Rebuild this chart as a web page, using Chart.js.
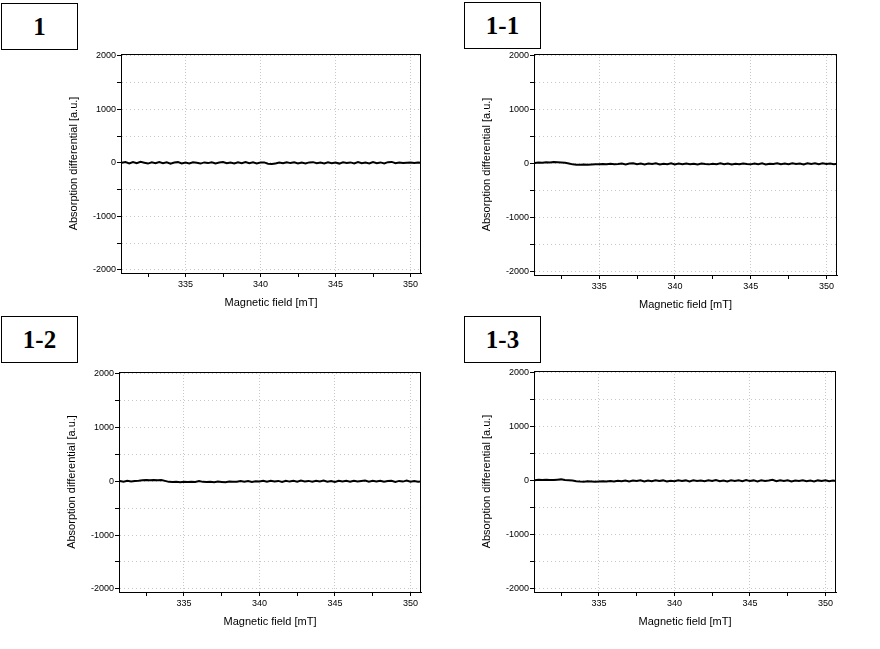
<!DOCTYPE html>
<html>
<head>
<meta charset="utf-8">
<script src="https://cdn.jsdelivr.net/npm/chart.js@4/dist/chart.umd.min.js"></script>
<style>
    html, body { margin: 0; padding: 0; background: #fff; }
    body { width: 880px; height: 649px; position: relative; overflow: hidden; }
    .tag {
        position: absolute;
        box-sizing: border-box;
        border: 1px solid #000;
        display: flex;
        align-items: center;
        justify-content: center;
        font: bold 25px "Liberation Serif", "Times New Roman", serif;
        color: #000;
    }
    canvas { position: absolute; }
</style>
</head>
<body>

<div class="tag" style="left:1px;top:3px;width:77px;height:47px;">1</div>
<div class="tag" style="left:464px;top:2px;width:77px;height:47px;">1-1</div>
<div class="tag" style="left:1px;top:316px;width:77px;height:47px;">1-2</div>
<div class="tag" style="left:464px;top:316px;width:77px;height:47px;">1-3</div>

<canvas id="c1"></canvas>
<canvas id="c2"></canvas>
<canvas id="c3"></canvas>
<canvas id="c4"></canvas>

<script>
// ============================================================
//  Data
// ============================================================

const panelNames = ["1", "1-1", "1-2", "1-3"];

// magnetic field [mT]
const field = [
    330.75, 331, 331.25, 331.5, 331.75, 332, 332.25, 332.5, 332.75, 333,
    333.25, 333.5, 333.75, 334, 334.25, 334.5, 334.75, 335, 335.25, 335.5,
    335.75, 336, 336.25, 336.5, 336.75, 337, 337.25, 337.5, 337.75, 338,
    338.25, 338.5, 338.75, 339, 339.25, 339.5, 339.75, 340, 340.25, 340.5,
    340.75, 341, 341.25, 341.5, 341.75, 342, 342.25, 342.5, 342.75, 343,
    343.25, 343.5, 343.75, 344, 344.25, 344.5, 344.75, 345, 345.25, 345.5,
    345.75, 346, 346.25, 346.5, 346.75, 347, 347.25, 347.5, 347.75, 348,
    348.25, 348.5, 348.75, 349, 349.25, 349.5, 349.75, 350, 350.25, 350.5,
    350.75,
];

// absorption differential [a.u.]
const signal1 = [
    0, 14, -10, 16, -8, 18, 3, -14, 10, -9,
    15, -6, 9, -15, 6, 13, -10, 5, -12, 11,
    2, -14, 8, -5, 12, -11, 6, 15, -9, 4,
    -13, 9, -6, 14, -8, 10, -12, 5, 8, -16,
    -22, -14, 6, -9, 12, -5, 9, -13, 5, -11,
    8, 13, -7, 4, -12, 9, -6, 7, -14, 10,
    -3, 8, -10, 13, -7, 4, -11, 15, -6, 8,
    -12, 13, 17, -8, 5, -4, 3, 6, -5, 4,
    0,
];
const signal1_1 = [
    15, 25, 22, 30, 26, 32, 28, 24, 18, 5,
    -10, -15, -18, -14, -16, -12, -8, -10, -4, -9,
    2, -9, -3, 7, -10, 5, 10, -8, 4, -11,
    6, -5, 9, -10, 2, -7, 8, -12, 4, -8,
    5, -9, 2, -11, 6, -4, -10, 1, -7, 8,
    -9, 4, -12, 2, -8, 6, -5, -10, 4, -7,
    8, -11, 2, -5, 10, -8, 4, -9, 11, -4,
    6, -10, 12, -5, 9, -8, 10, -3, 6, -9,
    2,
];
const signal1_2 = [
    5, -8, 10, -5, 8, 12, 18, 24, 20, 26,
    22, 25, 8, -10, -14, -10, -16, -9, -14, -6,
    -12, 4, -10, -14, -7, -16, -5, -11, -18, -4,
    -10, -8, 4, -9, 6, -11, 2, -5, 10, -8,
    11, -4, 8, -10, 12, -5, 9, -7, 14, -4,
    8, -9, 11, -3, 13, -7, 5, -10, 12, -4,
    9, -8, 11, -5, 6, 14, -7, 10, -4, 12,
    -8, 5, 11, -10, 8, -5, 13, -7, 4, -9,
    -4,
];
const signal1_3 = [
    12, 18, 14, 20, 15, 17, 22, 28, 16, 10,
    4, -6, -12, -15, -10, -14, -18, -11, -8, -13,
    -5, -11, 2, -8, 6, -10, 4, -5, 9, -11,
    5, -8, 10, -4, 8, -12, 2, -7, 11, -5,
    8, -10, 12, -4, 6, -9, 10, -3, 13, -8,
    5, -11, 9, -4, 11, -7, 14, -5, 8, -10,
    12, -4, 6, 20, -8, 10, -5, 9, -11, 6,
    -4, 10, -8, 5, -12, 8, -3, 11, -7, 4,
    -6,
];

const xTicks = [332.5, 335, 337.5, 340, 342.5, 345, 347.5, 350];
const yTicks = [-2000, -1500, -1000, -500, 0, 500, 1000, 1500, 2000];

// ============================================================
//  Layout of the four plot areas (page pixels)
// ============================================================

const AREAS = [
    { id: "c1", L: 121, T: 54,  R: 421, B: 273 },
    { id: "c2", L: 534, T: 54,  R: 837, B: 275 },
    { id: "c3", L: 119, T: 372, R: 421, B: 592 },
    { id: "c4", L: 534, T: 371, R: 836, B: 592 },
];
const SERIES = [signal1, signal1_1, signal1_2, signal1_3];

const Y_AXIS_W = 54;
const X_AXIS_H = 37;
const PAD = 8;

const FONT = "'Liberation Sans', Arial, sans-serif";
const GRID = "#c8c8c8";

// full box round the plot area
const framePlugin = {
    id: "frame",
    afterDraw(chart) {
        const { ctx, chartArea: a } = chart;
        ctx.save();
        ctx.strokeStyle = "#000";
        ctx.lineWidth = 1;
        ctx.strokeRect(Math.round(a.left) + 0.5, Math.round(a.top) + 0.5,
                       Math.round(a.right - a.left) - 1, Math.round(a.bottom - a.top));
        ctx.restore();
    },
};

function drawPanel(area, values) {
    const canvas = document.getElementById(area.id);
    const w = area.R - area.L + Y_AXIS_W + PAD;
    const h = area.B - area.T + PAD + X_AXIS_H;
    canvas.width = w;
    canvas.height = h;
    canvas.style.left = (area.L - Y_AXIS_W) + "px";
    canvas.style.top = (area.T - PAD) + "px";

    new Chart(canvas, {
        type: "line",
        data: {
            datasets: [{
                data: field.map((x, i) => ({ x, y: values[i] })),
                borderColor: "#000",
                borderWidth: 2,
                pointRadius: 0,
                tension: 0,
            }],
        },
        options: {
            responsive: false,
            animation: false,
            devicePixelRatio: 1,
            layout: { autoPadding: false, padding: { top: PAD, right: PAD, left: 0, bottom: 0 } },
            plugins: { legend: { display: false }, tooltip: { enabled: false } },
            scales: {
                x: {
                    type: "linear",
                    min: 330.7,
                    max: 350.7,
                    afterBuildTicks: s => { s.ticks = xTicks.map(v => ({ value: v })); },
                    afterFit: s => { s.height = X_AXIS_H; },
                    grid: {
                        color: c => (c.tick && c.tick.value % 5 === 0) ? GRID : "rgba(0,0,0,0)",
                        tickColor: "#000",
                        tickLength: 4,
                        lineWidth: 1,
                    },
                    border: { color: "#000", width: 1, dash: [1, 2] },
                    ticks: {
                        color: "#000",
                        padding: 2,
                        maxRotation: 0,
                        autoSkip: false,
                        font: { family: FONT, size: 9 },
                        callback: v => (v % 5 === 0 ? String(v) : ""),
                    },
                    title: {
                        display: true,
                        text: "Magnetic field [mT]",
                        color: "#000",
                        padding: 0,
                        font: { family: FONT, size: 11 },
                    },
                },
                y: {
                    min: -2060,
                    max: 2035,
                    afterBuildTicks: s => { s.ticks = yTicks.map(v => ({ value: v })); },
                    afterFit: s => { s.width = Y_AXIS_W; },
                    grid: {
                        color: GRID,
                        tickColor: "#000",
                        tickLength: 4,
                        lineWidth: 1,
                    },
                    border: { color: "#000", width: 1, dash: [1, 3] },
                    ticks: {
                        color: "#000",
                        padding: 1,
                        autoSkip: false,
                        font: { family: FONT, size: 9 },
                        callback: v => (v % 1000 === 0 ? String(v) : ""),
                    },
                    title: {
                        display: true,
                        text: "Absorption differential [a.u.]",
                        color: "#000",
                        padding: 0,
                        font: { family: FONT, size: 11 },
                    },
                },
            },
        },
        plugins: [framePlugin],
    });
}

AREAS.forEach((a, i) => drawPanel(a, SERIES[i]));
</script>
</body>
</html>
